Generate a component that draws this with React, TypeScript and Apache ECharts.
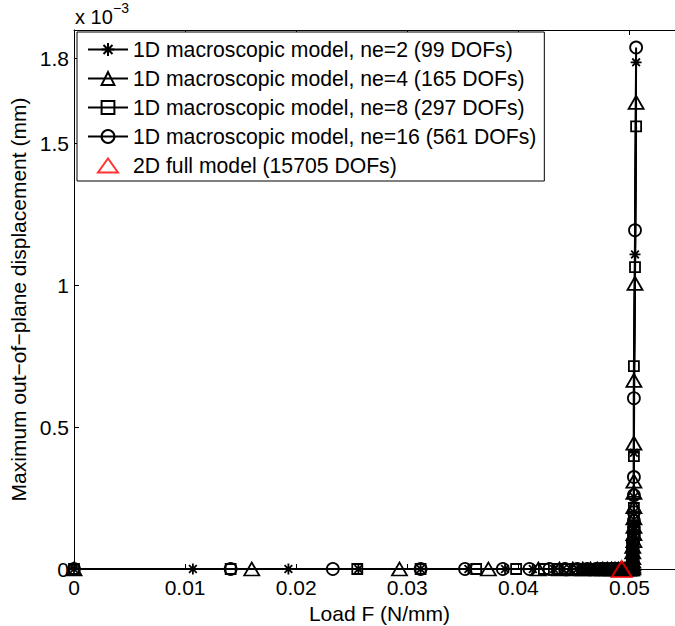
import React, { useEffect, useRef } from "react";
import * as echarts from "echarts";

// ---- tick labels ----
const xTicks = [0, 0.01, 0.02, 0.03, 0.04, 0.05];
const yTicks = [0, 0.5, 1, 1.5, 1.8]; // units of 1e-3 mm

// ---- series names ----
const names = [
  "1D macroscopic model, ne=2 (99 DOFs)",
  "1D macroscopic model, ne=4 (165 DOFs)",
  "1D macroscopic model, ne=8 (297 DOFs)",
  "1D macroscopic model, ne=16 (561 DOFs)",
  "2D full model (15705 DOFs)",
];

// ---- ne=2 (stars) ----
const ne2Load = [
  0, 0.0107, 0.0193, 0.0256, 0.0312, 0.0355, 0.0388, 0.0413, 0.0432, 0.044, 0.0447,
  0.0453, 0.0459, 0.0464, 0.0468, 0.0472, 0.0476, 0.0479, 0.0482, 0.0485, 0.0487,
  0.0489, 0.0491, 0.0493, 0.0494, 0.0496, 0.0497, 0.0498, 0.0499, 0.05, 0.0501, 0.0502,
  0.0503, 0.0503, 0.0503, 0.0503, 0.0503, 0.0503, 0.0503, 0.0504, 0.0504, 0.0504, 0.0504,
  0.0504, 0.0504, 0.0505, 0.0506,
];
const ne2Disp = [
  0, 0, 0, 0, 0, 0, 0, 0, 0, 0, 0,
  0, 0, 0, 0, 0, 0, 0, 0, 0, 0,
  0, 0, 0, 0, 0, 0, 0, 0, 0, 0, 0,
  0.005, 0.012, 0.022, 0.035, 0.05, 0.07, 0.09, 0.11, 0.135, 0.16, 0.2,
  0.254, 0.41, 1.109, 1.786,
];

// ---- ne=4 (triangles) ----
const ne4Load = [
  0, 0.016, 0.0293, 0.0373, 0.0418, 0.0437, 0.0449, 0.0458, 0.0465, 0.0471, 0.0476,
  0.048, 0.0484, 0.0487, 0.049, 0.0492, 0.0494, 0.0496, 0.0498, 0.0499, 0.05, 0.0501, 0.0502,
  0.0503, 0.0503, 0.0503, 0.0503, 0.0503, 0.0503, 0.0503, 0.0504, 0.0504, 0.0504, 0.0504,
  0.0504, 0.0504, 0.0504, 0.0504, 0.0504, 0.0505, 0.0506,
];
const ne4Disp = [
  0, 0, 0, 0, 0, 0, 0, 0, 0, 0, 0,
  0, 0, 0, 0, 0, 0, 0, 0, 0, 0, 0, 0,
  0.004, 0.01, 0.018, 0.028, 0.04, 0.06, 0.08, 0.1, 0.125, 0.15, 0.18,
  0.22, 0.27, 0.31, 0.444, 0.665, 1.007, 1.645,
];

// ---- ne=8 (squares) ----
const ne8Load = [
  0, 0.0141, 0.0255, 0.0312, 0.0362, 0.0398, 0.0423, 0.0435, 0.0444, 0.0452, 0.0459,
  0.0465, 0.047, 0.0474, 0.0478, 0.0482, 0.0485, 0.0488, 0.049, 0.0492, 0.0494, 0.0496,
  0.0497, 0.0498, 0.0499, 0.05, 0.0501, 0.0502,
  0.0503, 0.0503, 0.0503, 0.0503, 0.0503, 0.0503, 0.0504, 0.0504, 0.0504, 0.0504, 0.0504,
  0.0504, 0.0504, 0.0505, 0.0506,
];
const ne8Disp = [
  0, 0, 0, 0, 0, 0, 0, 0, 0, 0, 0,
  0, 0, 0, 0, 0, 0, 0, 0, 0, 0, 0,
  0, 0, 0, 0, 0, 0,
  0.006, 0.015, 0.03, 0.045, 0.065, 0.085, 0.105, 0.13, 0.155, 0.185, 0.215,
  0.398, 0.715, 1.064, 1.56,
];

// ---- ne=16 (circles) ----
const ne16Load = [
  0, 0.0141, 0.0233, 0.0312, 0.0352, 0.0386, 0.041, 0.0428, 0.0442, 0.0453, 0.0462,
  0.047, 0.0474, 0.0477, 0.048, 0.0483, 0.0486, 0.0488, 0.049, 0.0492, 0.0494, 0.0495,
  0.0497, 0.0498, 0.0499, 0.05, 0.0501, 0.0502,
  0.0503, 0.0503, 0.0503, 0.0503, 0.0503, 0.0503, 0.0504, 0.0504, 0.0504, 0.0504, 0.0504,
  0.0504, 0.0504, 0.0505, 0.0506,
];
const ne16Disp = [
  0, 0, 0, 0, 0, 0, 0, 0, 0, 0, 0,
  0, 0, 0, 0, 0, 0, 0, 0, 0, 0, 0,
  0, 0, 0, 0, 0, 0,
  0.008, 0.02, 0.035, 0.055, 0.075, 0.095, 0.12, 0.145, 0.17, 0.2, 0.26,
  0.324, 0.602, 1.194, 1.838,
];

// ---- 2D full model ----
const fullLoad = [0.0493];
const fullDisp = [0];

const zip = (a: number[], b: number[]) =>
  a.slice(0, Math.min(a.length, b.length)).map((v, i) => [v, b[i]]);

const FONT = "Liberation Sans, Arial, Helvetica, sans-serif";
const FS = 21;
const STAR = "path://M0,-1L0,1M-1,0L1,0M-0.7,-0.7L0.7,0.7M-0.7,0.7L0.7,-0.7";
const LEGEND_TRI = "path://M0,0M40,16M30,15L20,1L10,15Z";

export default function App() {
  const ref = useRef<HTMLDivElement>(null);
  useEffect(() => {
    if (!ref.current) return;
    const chart = echarts.init(ref.current, undefined, { renderer: "svg" });
    const lineSeries = (name: string, data: number[][], symbol: string, size: any) => ({
      name,
      type: "line",
      data,
      symbol,
      symbolSize: size,
      showAllSymbol: true,
      lineStyle: { color: "#000", width: 2 },
      itemStyle: { color: "rgba(0,0,0,0)", borderColor: "#000", borderWidth: 1.8 },
      emphasis: { disabled: true },
      z: 2,
    });
    const axisLine = { show: true, onZero: false, lineStyle: { color: "#000", width: 1 } };
    chart.setOption({
      animation: false,
      backgroundColor: "#fff",
      textStyle: { fontFamily: FONT },
      grid: { left: 74, top: 30, width: 611, height: 539, outerBoundsMode: "none" },
      xAxis: [
        {
          type: "value",
          min: 0,
          max: 0.055,
          position: "bottom",
          name: "Load F (N/mm)",
          nameLocation: "middle",
          nameGap: 28,
          nameTextStyle: { fontSize: FS, color: "#000", fontFamily: FONT },
          axisLine,
          axisTick: { show: true, inside: true, length: 5, customValues: xTicks, lineStyle: { color: "#000" } },
          axisLabel: { customValues: xTicks, fontSize: FS, color: "#000", margin: 8, fontFamily: FONT },
          splitLine: { show: false },
        },
        {
          type: "value",
          min: 0,
          max: 0.055,
          position: "top",
          axisLine,
          axisTick: { show: true, inside: true, length: 5, customValues: xTicks, lineStyle: { color: "#000" } },
          axisLabel: { show: false },
          splitLine: { show: false },
        },
      ],
      yAxis: {
        type: "value",
        min: 0,
        max: 1.9,
        name: "Maximum out\u2212of\u2212plane displacement (mm)",
        nameLocation: "middle",
        nameGap: 40,
        nameTextStyle: { fontSize: FS, color: "#000", fontFamily: FONT },
        axisLine,
        axisTick: { show: true, inside: true, length: 5, customValues: yTicks, lineStyle: { color: "#000" } },
        axisLabel: { customValues: yTicks, fontSize: FS, color: "#000", margin: 5, fontFamily: FONT },
        splitLine: { show: false },
      },
      legend: {
        orient: "vertical",
        left: 77,
        top: 32,
        backgroundColor: "#fff",
        borderColor: "#000",
        borderWidth: 1,
        borderRadius: 0,
        padding: [7, 8, 5, 10],
        itemGap: 8,
        itemWidth: 40,
        itemHeight: 16,
        textStyle: { fontSize: 21.2, lineHeight: 20, color: "#000", fontFamily: FONT },
        data: [
          names[0],
          names[1],
          names[2],
          names[3],
          {
            name: names[4],
            icon: LEGEND_TRI,
            itemStyle: { color: "rgba(0,0,0,0)", borderColor: "#f00", borderWidth: 2 },
          },
        ],
      },
      graphic: [
        {
          type: "text",
          x: 75,
          y: 7,
          style: { text: "x 10", font: `20px ${FONT}`, fill: "#000", verticalAlign: "top" },
        },
        {
          type: "text",
          x: 113,
          y: 1,
          style: { text: "\u22123", font: `14px ${FONT}`, fill: "#000", verticalAlign: "top" },
        },
      ],
      series: [
        lineSeries(names[0], zip(ne2Load, ne2Disp), STAR, 11),
        lineSeries(names[1], zip(ne4Load, ne4Disp), "triangle", [15, 13]),
        lineSeries(names[2], zip(ne8Load, ne8Disp), "rect", 10),
        lineSeries(names[3], zip(ne16Load, ne16Disp), "circle", 12),
        {
          name: names[4],
          type: "scatter",
          data: zip(fullLoad, fullDisp),
          symbol: "triangle",
          symbolSize: [20, 16],
          itemStyle: { color: "rgba(0,0,0,0)", borderColor: "#f00", borderWidth: 2 },
          emphasis: { disabled: true },
          z: 3,
        },
      ],
    });
    return () => chart.dispose();
  }, []);
  return (
    <div
      style={{
        position: "fixed",
        left: 0,
        top: 0,
        width: 675,
        height: 626,
        overflow: "hidden",
        background: "#fff",
      }}
    >
      <div ref={ref} style={{ width: 720, height: 626 }} />
    </div>
  );
}
